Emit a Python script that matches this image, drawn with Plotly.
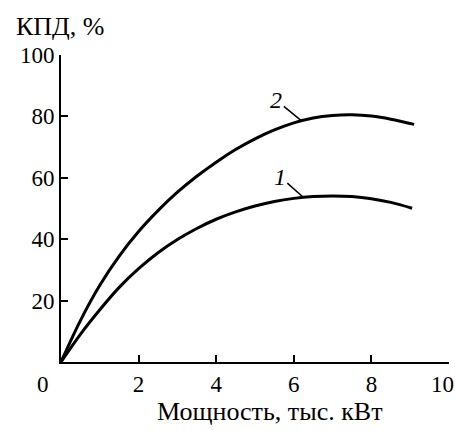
import numpy as np
import plotly.graph_objects as go

# Power, thousand kW
power_2 = [0, 0.5, 1, 1.5, 2, 2.5, 3, 3.5, 4, 4.5, 5, 5.5, 6, 6.5, 7, 7.5, 8, 8.5, 9.1]
eff_2 = [0, 13.5, 25, 34.5, 42.5, 49.3, 55.3, 60.5, 65.1, 69.2, 72.7, 75.6, 77.9, 79.5, 80.3, 80.5, 80.1, 79.1, 77.4]

power_1 = [0, 0.5, 1, 1.5, 2, 2.5, 3, 3.5, 4, 4.5, 5, 5.5, 6, 6.5, 7, 7.5, 8, 8.5, 9.05]
eff_1 = [0, 9, 17, 24.3, 30.4, 35.6, 39.9, 43.5, 46.5, 48.9, 50.8, 52.3, 53.3, 53.9, 54.1, 53.9, 53.2, 52.0, 50.1]

x_ticks = [2, 4, 6, 8, 10]
x_tick_text = ["2", "4", "6", "8", ""]   # last label drawn separately, against the edge
y_ticks = [20, 40, 60, 80, 100]

curve_labels = ["1", "2"]
label_pos = [(5.64, 60.4), (5.55, 85.3)]
leader_x = [6.25, 6.2]

FONT = "Liberation Serif"

# plot area in pixels: left 61, right 449, top 55, bottom 362
L, R, T, B = 61, 449, 55, 362


def px_to_paper(px, py):
    return (px - L) / (R - L), (B - py) / (B - T)


def paper_text(px, py, text, size):
    x, y = px_to_paper(px, py)
    fig.add_annotation(x=x, y=y, xref="paper", yref="paper", text=text,
                       showarrow=False, xanchor="center", yanchor="middle",
                       font=dict(family=FONT, size=size, color="black"))


fig = go.Figure()
for xs, ys in [(power_1, eff_1), (power_2, eff_2)]:
    fig.add_trace(go.Scatter(
        x=xs, y=ys, mode="lines",
        line=dict(color="black", width=3, shape="spline", smoothing=1.0),
        showlegend=False, hoverinfo="skip", cliponaxis=False,
    ))

# Curve numbers with leader strokes to the curves
for lab, (tx, ty), lx, (xs, ys) in zip(curve_labels, label_pos, leader_x,
                                       [(power_1, eff_1), (power_2, eff_2)]):
    fig.add_annotation(
        x=lx, y=float(np.interp(lx, xs, ys)), xref="x", yref="y",
        ax=tx, ay=ty, axref="x", ayref="y",
        text=f"<i>{lab}</i>", showarrow=True, arrowhead=0,
        arrowwidth=1.5, arrowcolor="black",
        font=dict(family=FONT, size=24, color="black"),
    )

# Shared origin label and the last x tick label
paper_text(43, 384, "0", 23)
paper_text(442, 384, "10", 23)

# Axis titles
paper_text(60, 27, "КПД, %", 26)
paper_text(270, 411, "Мощность, тыс. кВт", 26)

axis_style = dict(ticks="inside", ticklen=7, tickwidth=1.5, tickcolor="black",
                  showline=True, linecolor="black", linewidth=2, showgrid=False,
                  zeroline=False, fixedrange=True, automargin=False,
                  ticklabeloverflow="allow", tickfont=dict(family=FONT, size=23))

fig.update_layout(
    width=455, height=430,
    margin=dict(l=L, r=455 - R, t=T, b=430 - B),
    paper_bgcolor="white", plot_bgcolor="white",
    font=dict(family=FONT, size=23, color="black"),
    xaxis=dict(range=[0, 10], tickvals=x_ticks, ticktext=x_tick_text, **axis_style),
    yaxis=dict(range=[0, 100], tickvals=y_ticks, **axis_style),
)

fig.write_html("out.html")
